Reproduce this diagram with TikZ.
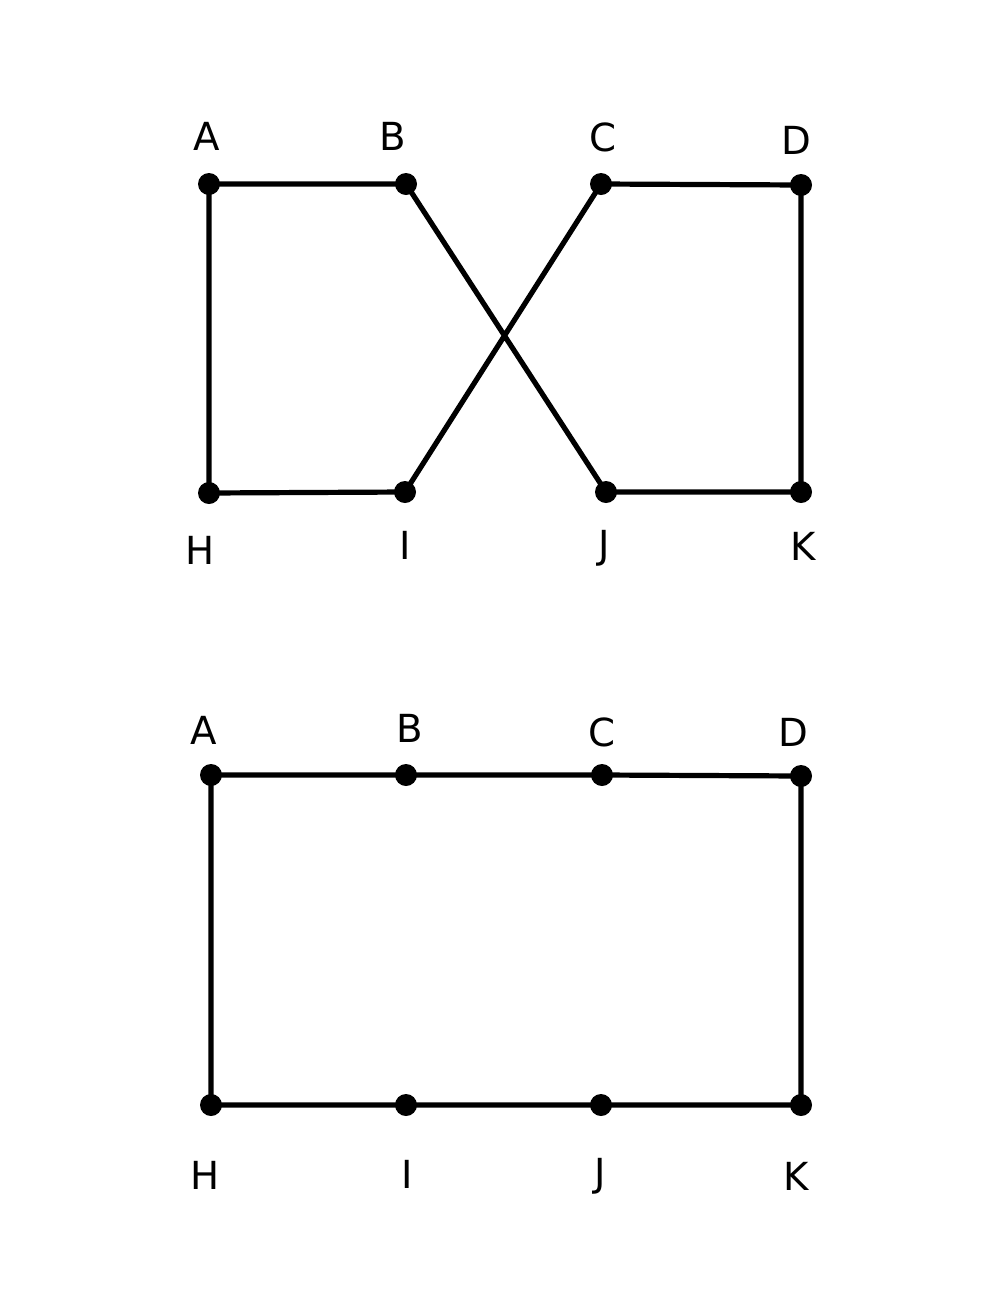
\documentclass[tikz,border=0pt]{standalone}
\usepackage{fontspec}
\setmainfont{DejaVu Sans}
\begin{document}
\begin{tikzpicture}[x=0.75pt,y=-0.75pt,
  pt/.style={circle,fill=black,inner sep=0pt,minimum size=16.5pt},
  lab/.style={font=\fontsize{29}{34}\selectfont,inner sep=0pt},
  edge/.style={line width=3.9pt,line cap=round,line join=round}]
\useasboundingbox (0,0) rectangle (1000,1300);
% top figure
\node[pt] (tA) at (209,184) {};
\node[pt] (tB) at (406,184) {};
\node[pt] (tC) at (601,184) {};
\node[pt] (tD) at (801,185) {};
\node[pt] (tH) at (209,493) {};
\node[pt] (tI) at (405,492) {};
\node[pt] (tJ) at (606,492) {};
\node[pt] (tK) at (801,492) {};
\draw[edge] (tA.center) -- (tB.center) -- (tJ.center) -- (tK.center) -- (tD.center) -- (tC.center) -- (tI.center) -- (tH.center) -- cycle;
\node[lab] (ltA) at (207,136) {A};
\node[lab] (ltB) at (393,136) {B};
\node[lab] (ltC) at (603,137) {C};
\node[lab] (ltD) at (796,140) {D};
\node[lab] (ltH) at (200,550) {H};
\node[lab] (ltI) at (405,545) {I};
\node[lab] (ltJ) at (604,548) {J};
\node[lab] (ltK) at (803,546) {K};
% bottom figure
\node[pt] (bA) at (211,775) {};
\node[pt] (bB) at (406,775) {};
\node[pt] (bC) at (602,775) {};
\node[pt] (bD) at (801,776) {};
\node[pt] (bH) at (211,1105) {};
\node[pt] (bI) at (406,1105) {};
\node[pt] (bJ) at (601,1105) {};
\node[pt] (bK) at (801,1105) {};
\draw[edge] (bA.center) -- (bB.center) -- (bC.center) -- (bD.center) -- (bK.center) -- (bJ.center) -- (bI.center) -- (bH.center) -- cycle;
\node[lab] (lbA) at (204,730) {A};
\node[lab] (lbB) at (410,728) {B};
\node[lab] (lbC) at (602,732) {C};
\node[lab] (lbD) at (793,732) {D};
\node[lab] (lbH) at (205,1175) {H};
\node[lab] (lbI) at (407,1174) {I};
\node[lab] (lbJ) at (600,1176) {J};
\node[lab] (lbK) at (796,1176) {K};
\end{tikzpicture}
\end{document}
